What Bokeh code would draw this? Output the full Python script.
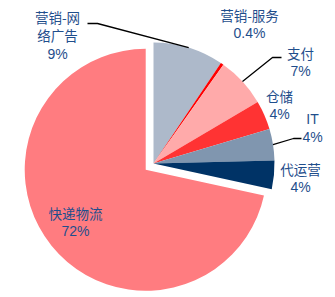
import numpy as np
from bokeh.plotting import figure
from bokeh.models import ColumnDataSource, Range1d
from bokeh.embed import file_html
from bokeh.resources import INLINE
from bokeh.core.properties import value

# ---- data ----
categories = ["营销-网络广告", "营销-服务", "支付", "仓储", "IT", "代运营", "快递物流"]
shares = [9.4, 0.4, 6.7, 3.9, 4.2, 3.8, 71.6]
pct_labels = ["9%", "0.4%", "7%", "4%", "4%", "4%", "72%"]
name_lines = [["营销-网", "络广告"], ["营销-服务"], ["支付"], ["仓储"], ["IT"], ["代运营"], ["快递物流"]]
colors = ["#ADB9CA", "#FF0000", "#FFAAAA", "#FF3333", "#8096AF", "#003366", "#FF7C80"]

# ---- layout ----
W, H = 335, 297
CX, CY, R = 153, 134, 121
explode = [0, 0, 0, 0, 0, 0, 10]
# label centre (screen x, screen y of first line)
label_pos = [(57, 16), (249, 14), (300, 52), (279, 95), (312, 118), (300, 168), (75, 212)]
LINE_GAP = 18.5
# leader lines: (elbow, end) in screen coords, None = no leader
leaders = [((97, 23), (87, 23)), None, ((272, 57), (281, 57)), None,
           ((293, 138), (301, 138)), None, None]
TEXT_COLOR = "#1F4E8C"

def sy(y):
    return H - y

frac = np.array(shares) / sum(shares)
cum = np.concatenate([[0.0], np.cumsum(frac)]) * 2 * np.pi
start = np.pi / 2 - cum[1:]
end = np.pi / 2 - cum[:-1]
mid = (start + end) / 2
ex = np.array(explode, dtype=float)
xs = CX + ex * np.cos(mid)
ys = CY + ex * np.sin(mid)

src = ColumnDataSource(dict(x=xs, y=ys, start=start, end=end, color=colors, cat=categories))

p = figure(width=W, height=H, output_backend="svg", toolbar_location=None,
           x_range=Range1d(0, W), y_range=Range1d(0, H),
           x_axis_location=None, y_axis_location=None, min_border=0)
p.outline_line_color = None
p.grid.visible = False
p.background_fill_color = "white"

p.wedge(x="x", y="y", radius=R, start_angle="start", end_angle="end",
        direction="anticlock", fill_color="color", line_color=None, source=src)

# leader lines
for i, ld in enumerate(leaders):
    if ld is None:
        continue
    ax = xs[i] + R * np.cos(mid[i])
    ay = ys[i] + R * np.sin(mid[i])
    (e1x, e1y), (e2x, e2y) = ld
    p.line([ax, e1x, e2x], [ay, sy(e1y), sy(e2y)], line_color="black", line_width=1.3)

# labels
cjk_x, cjk_y, cjk_t = [], [], []
num_x, num_y, num_t = [], [], []
for i in range(len(categories)):
    lx, ly = label_pos[i]
    for k, t in enumerate(name_lines[i]):
        if t.isascii():
            num_x.append(lx); num_y.append(sy(ly + k * LINE_GAP)); num_t.append(t)
        else:
            cjk_x.append(lx); cjk_y.append(sy(ly + k * LINE_GAP)); cjk_t.append(t)
    k = len(name_lines[i])
    num_x.append(lx); num_y.append(sy(ly + k * LINE_GAP)); num_t.append(pct_labels[i])

p.text(x=cjk_x, y=cjk_y, text=cjk_t, text_align="center", text_baseline="middle",
       text_font=value("Noto Sans CJK SC"), text_font_size="13.5px", text_color=TEXT_COLOR)
p.text(x=num_x, y=num_y, text=num_t, text_align="center", text_baseline="middle",
       text_font=value("Liberation Sans"), text_font_size="14px", text_color=TEXT_COLOR)

open("out.html", "w").write(file_html(p, INLINE))
